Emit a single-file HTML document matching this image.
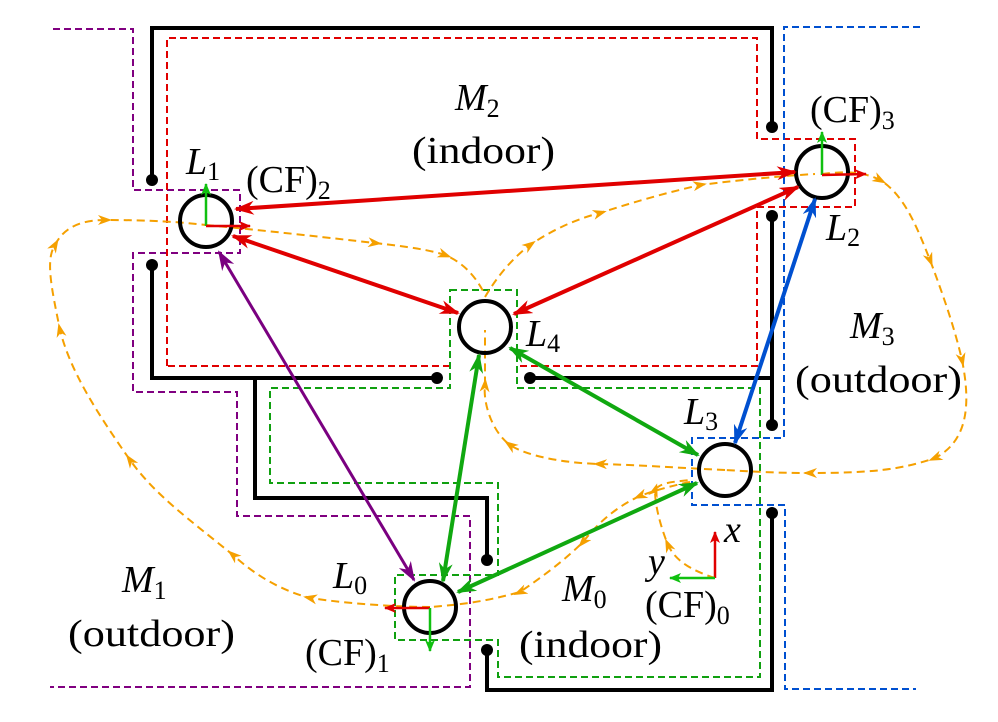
<!DOCTYPE html>
<html><head><meta charset="utf-8"><style>
html,body{margin:0;padding:0;background:#fff;}
svg{display:block;}
text{font-family:"Liberation Serif",serif;fill:#000;}
.m{font-style:italic;}
</style></head><body>
<svg width="998" height="722" viewBox="0 0 998 722">
<defs>
<marker id="ar" viewBox="0 0 20 14" refX="18" refY="7" markerWidth="20" markerHeight="14" markerUnits="userSpaceOnUse" orient="auto-start-reverse"><path d="M0,0 L20,7 L0,14 L6,7 Z" fill="#e00000"/></marker>
<marker id="ap" viewBox="0 0 20 14" refX="18" refY="7" markerWidth="20" markerHeight="14" markerUnits="userSpaceOnUse" orient="auto-start-reverse"><path d="M0,0 L20,7 L0,14 L6,7 Z" fill="#7a0080"/></marker>
<marker id="ag" viewBox="0 0 20 14" refX="18" refY="7" markerWidth="20" markerHeight="14" markerUnits="userSpaceOnUse" orient="auto-start-reverse"><path d="M0,0 L20,7 L0,14 L6,7 Z" fill="#10a810"/></marker>
<marker id="ab" viewBox="0 0 20 14" refX="18" refY="7" markerWidth="20" markerHeight="14" markerUnits="userSpaceOnUse" orient="auto-start-reverse"><path d="M0,0 L20,7 L0,14 L6,7 Z" fill="#0050d0"/></marker>
<marker id="ao" viewBox="0 0 14 10" refX="7" refY="5" markerWidth="14" markerHeight="10" markerUnits="userSpaceOnUse" orient="auto"><path d="M0,0 L14,5 L0,10 L4,5 Z" fill="#f5a000"/></marker>
<marker id="sr" viewBox="0 0 12 10" refX="11" refY="5" markerWidth="12" markerHeight="10" markerUnits="userSpaceOnUse" orient="auto"><path d="M0,0 L12,5 L0,10 L3,5 Z" fill="#e00000"/></marker>
<marker id="sg" viewBox="0 0 12 10" refX="11" refY="5" markerWidth="12" markerHeight="10" markerUnits="userSpaceOnUse" orient="auto"><path d="M0,0 L12,5 L0,10 L3,5 Z" fill="#10c010"/></marker>
</defs>

<g fill="none" stroke-width="2" stroke-dasharray="7,4">
<path stroke="#800080" d="M53,29 H133 V190 H240 V253 H133 V392 H237 V516 H470 V687 H50"/>
<path stroke="#e00000" d="M167,366 V38 H757 V139 H855 V207 H757 V366 H517 M450,366 H167"/>
<path stroke="#10a010" d="M450,290 H517 V388 H760 V677 H498 V640 H395 V575 H498 V483 H270 V388 H450 Z"/>
<path stroke="#0050d0" d="M920,27 H784 V438 H692 V505 H785 V689 H916"/>
</g>

<g fill="none" stroke="#000" stroke-width="4">
<path d="M152,177 V28 H772 V127"/>
<path d="M152,265 V378 H437"/>
<path d="M255,378 V498 H487 V560"/>
<path d="M487,650 V690 H772 V513"/>
<path d="M772,213 V425 M772,378 H530"/>
</g>
<g fill="#000">
<circle cx="152" cy="180" r="6"/><circle cx="152" cy="265" r="6"/><circle cx="772" cy="127" r="6"/><circle cx="772" cy="216" r="6"/>
<circle cx="437" cy="378" r="6"/><circle cx="530" cy="378" r="6"/><circle cx="772" cy="425" r="6"/><circle cx="487" cy="560" r="6"/>
<circle cx="487" cy="650" r="6"/><circle cx="772" cy="513" r="6"/>
</g>

<g fill="none" stroke="#f5a000" stroke-width="2" stroke-dasharray="8,5" marker-mid="url(#ao)">
<path d="M430,607 C400,607 350,604 310,598 C280,590 255,575 233,555 C190,520 155,495 130,460 C95,410 70,370 60,330 C52,290 45,260 55,245 C65,225 85,220 105,220 C150,220 180,222 206,225"/>
<path d="M206,225 C280,232 330,238 375,243 C410,247 430,250 445,255 C465,263 478,280 485,295"/>
<path d="M485,297 C495,280 510,260 530,245 C555,228 580,218 600,213 C640,200 670,192 700,185 C740,180 780,176 815,174"/>
<path d="M822,174 C840,172 860,170 880,180 C905,195 918,230 930,260 C945,300 955,330 962,360 C970,400 970,440 935,458 C900,470 870,473 810,473 C780,473 760,472 725,470"/>
<path d="M725,470 C680,468 640,465 600,464 C560,463 525,455 510,445 C490,430 483,400 485,385 C485,360 485,345 485,330"/>
<path d="M690,482 C670,486 650,492 640,496 C620,505 600,520 583,542 C560,565 530,585 520,592 C490,600 470,604 430,607"/>
<path d="M715,578 C690,570 675,560 668,545 C660,525 655,505 655,490 C660,483 670,482 690,480"/>
</g>

<g fill="none" stroke="#000" stroke-width="4">
<circle cx="206" cy="221" r="26"/>
<circle cx="822" cy="172" r="26"/>
<circle cx="485" cy="327" r="26"/>
<circle cx="725" cy="470" r="26"/>
<circle cx="430" cy="607" r="26"/>
</g>

<g stroke-width="2.5">
<line x1="206" y1="226" x2="206" y2="184" stroke="#10c010" marker-end="url(#sg)"/>
<line x1="206" y1="226" x2="250" y2="226" stroke="#e00000" marker-end="url(#sr)"/>
<line x1="822" y1="175" x2="822" y2="132" stroke="#10c010" marker-end="url(#sg)"/>
<line x1="822" y1="175" x2="866" y2="174" stroke="#e00000" marker-end="url(#sr)"/>
<line x1="430" y1="608" x2="385" y2="608" stroke="#e00000" marker-end="url(#sr)"/>
<line x1="430" y1="608" x2="430" y2="651" stroke="#10c010" marker-end="url(#sg)"/>
<line x1="715" y1="578" x2="715" y2="532" stroke="#e00000" marker-end="url(#sr)"/>
<line x1="715" y1="578" x2="670" y2="578" stroke="#10c010" marker-end="url(#sg)"/>
</g>

<g stroke-width="4" fill="none">
<line x1="236" y1="209" x2="795" y2="172" stroke="#e00000" marker-start="url(#ar)" marker-end="url(#ar)"/>
<line x1="233" y1="236" x2="458" y2="313" stroke="#e00000" marker-start="url(#ar)" marker-end="url(#ar)"/>
<line x1="514" y1="314" x2="798" y2="187" stroke="#e00000" marker-start="url(#ar)" marker-end="url(#ar)"/>
<line x1="219" y1="252" x2="414" y2="580" stroke="#7a0080" stroke-width="3" marker-start="url(#ap)" marker-end="url(#ap)"/>
<line x1="479" y1="355" x2="443" y2="581" stroke="#10a810" marker-start="url(#ag)" marker-end="url(#ag)"/>
<line x1="510" y1="348" x2="698" y2="455" stroke="#10a810" marker-start="url(#ag)" marker-end="url(#ag)"/>
<line x1="458" y1="592" x2="697" y2="483" stroke="#10a810" marker-start="url(#ag)" marker-end="url(#ag)"/>
<line x1="815" y1="199" x2="735" y2="443" stroke="#0050d0" marker-start="url(#ab)" marker-end="url(#ab)"/>
</g>

<g font-size="38">
<text x="455" y="110" class="m">M<tspan font-size="26" dy="7" font-style="normal">2</tspan></text>
<text x="412" y="163" textLength="143" lengthAdjust="spacingAndGlyphs">(indoor)</text>
<text x="186" y="174" class="m">L<tspan font-size="26" dy="6" font-style="normal">1</tspan></text>
<text x="246" y="192">(CF)<tspan font-size="26" dy="7">2</tspan></text>
<text x="810" y="122">(CF)<tspan font-size="26" dy="7">3</tspan></text>
<text x="826" y="240" class="m">L<tspan font-size="26" dy="6" font-style="normal">2</tspan></text>
<text x="526" y="346" class="m">L<tspan font-size="26" dy="6" font-style="normal">4</tspan></text>
<text x="850" y="338" class="m">M<tspan font-size="26" dy="7" font-style="normal">3</tspan></text>
<text x="795" y="392" textLength="167" lengthAdjust="spacingAndGlyphs">(outdoor)</text>
<text x="684" y="424" class="m">L<tspan font-size="26" dy="6" font-style="normal">3</tspan></text>
<text x="724" y="542" class="m">x</text>
<text x="648" y="574" class="m">y</text>
<text x="645" y="617">(CF)<tspan font-size="26" dy="7">0</tspan></text>
<text x="562" y="601" class="m">M<tspan font-size="26" dy="7" font-style="normal">0</tspan></text>
<text x="519" y="657" textLength="143" lengthAdjust="spacingAndGlyphs">(indoor)</text>
<text x="333" y="588" class="m">L<tspan font-size="26" dy="6" font-style="normal">0</tspan></text>
<text x="122" y="592" class="m">M<tspan font-size="26" dy="7" font-style="normal">1</tspan></text>
<text x="68" y="646" textLength="167" lengthAdjust="spacingAndGlyphs">(outdoor)</text>
<text x="305" y="665">(CF)<tspan font-size="26" dy="7">1</tspan></text>
</g>
</svg>
</body></html>
